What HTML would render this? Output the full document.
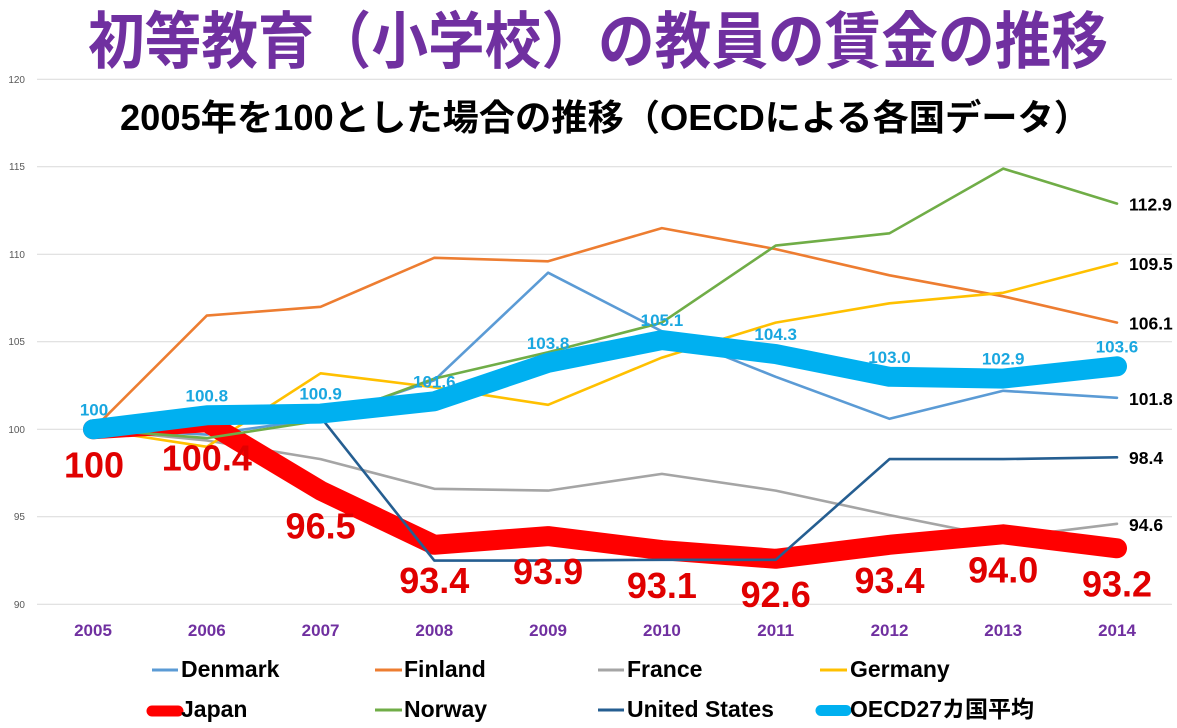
<!DOCTYPE html>
<html><head><meta charset="utf-8"><style>
html,body{margin:0;padding:0;background:#fff;}
svg{display:block;}
text{font-family:"Liberation Sans","Noto Sans CJK JP",sans-serif;}
</style></head><body>
<svg width="1177" height="728" viewBox="0 0 1177 728" xmlns="http://www.w3.org/2000/svg">
<rect width="1177" height="728" fill="#fff"/>
<!-- grid -->
<g stroke="#D9D9D9" stroke-width="1">
<line x1="37" y1="79.3" x2="1172" y2="79.3"/>
<line x1="37" y1="166.8" x2="1172" y2="166.8"/>
<line x1="37" y1="254.3" x2="1172" y2="254.3"/>
<line x1="37" y1="341.8" x2="1172" y2="341.8"/>
<line x1="37" y1="429.3" x2="1172" y2="429.3"/>
<line x1="37" y1="516.8" x2="1172" y2="516.8"/>
<line x1="37" y1="604.3" x2="1172" y2="604.3"/>
</g>
<g font-size="10" fill="#595959" text-anchor="end">
<text x="25" y="83">120</text>
<text x="25" y="170">115</text>
<text x="25" y="258">110</text>
<text x="25" y="345">105</text>
<text x="25" y="433">100</text>
<text x="25" y="520">95</text>
<text x="25" y="608">90</text>
</g>
<!-- title -->
<text x="88" y="63" font-size="62" font-weight="bold" fill="#7030A0" textLength="1020" lengthAdjust="spacingAndGlyphs">初等教育（小学校）の教員の賃金の推移</text>
<text x="120" y="130" font-size="36" font-weight="bold" fill="#000" textLength="970" lengthAdjust="spacingAndGlyphs">2005年を100とした場合の推移（OECDによる各国データ）</text>
<!-- series -->
<g fill="none" stroke-linejoin="round" stroke-linecap="round">
<polyline stroke="#5B9BD5" stroke-width="2.6" points="93,429.3 206.8,434.6 320.6,418.8 434.3,380.3 548.1,272.7 661.9,331.3 775.7,376.8 889.5,418.8 1003.2,390.8 1117,397.8"/>
<polyline stroke="#ED7D31" stroke-width="2.6" points="93,429.3 206.8,315.6 320.6,306.8 434.3,257.8 548.1,261.3 661.9,228.1 775.7,249.1 889.5,275.3 1003.2,296.3 1117,322.6"/>
<polyline stroke="#A5A5A5" stroke-width="2.6" points="93,429.3 206.8,440.5 320.6,459.1 434.3,488.8 548.1,490.6 661.9,473.9 775.7,490.6 889.5,515.1 1003.2,537.8 1117,523.8"/>
<polyline stroke="#FFC000" stroke-width="2.6" points="93,429.3 206.8,446.8 320.6,373.3 434.3,387.3 548.1,404.8 661.9,357.6 775.7,322.6 889.5,303.3 1003.2,292.8 1117,263.1"/>
<polyline stroke="#FF0000" stroke-width="20" points="93,429.3 206.8,422.3 320.6,490.6 434.3,544.8 548.1,536.1 661.9,550.1 775.7,558.8 889.5,544.8 1003.2,534.3 1117,548.3"/>
<polyline stroke="#70AD47" stroke-width="2.6" points="93,429.3 206.8,438.1 320.6,420.6 434.3,378.6 548.1,352.3 661.9,322.6 775.7,245.6 889.5,233.3 1003.2,168.6 1117,203.6"/>
<polyline stroke="#255E91" stroke-width="2.6" points="93,429.3 206.8,417.1 320.6,417.1 434.3,560.6 548.1,560.6 661.9,559.8 775.7,559.8 889.5,459.1 1003.2,459.1 1117,457.3"/>
<polyline stroke="#00B0F0" stroke-width="20" points="93,429.3 206.8,415.3 320.6,413.6 434.3,401.3 548.1,362.8 661.9,340.1 775.7,354.1 889.5,376.8 1003.2,378.6 1117,366.3"/>
</g>
<!-- OECD labels -->
<g font-size="17" font-weight="bold" fill="#1AA7E0" text-anchor="middle">
<text x="94" y="415.3">100</text>
<text x="206.8" y="401.3">100.8</text>
<text x="320.6" y="399.6">100.9</text>
<text x="434.3" y="387.3">101.6</text>
<text x="548.1" y="348.8">103.8</text>
<text x="661.9" y="326.1">105.1</text>
<text x="775.7" y="340.1">104.3</text>
<text x="889.5" y="362.8">103.0</text>
<text x="1003.2" y="364.6">102.9</text>
<text x="1117" y="352.3">103.6</text>
</g>
<!-- Japan labels -->
<g font-size="36" font-weight="bold" fill="#E00000" text-anchor="middle">
<text x="94" y="477.3">100</text>
<text x="206.8" y="470.3">100.4</text>
<text x="320.6" y="538.6">96.5</text>
<text x="434.3" y="592.8">93.4</text>
<text x="548.1" y="584.1">93.9</text>
<text x="661.9" y="598.1">93.1</text>
<text x="775.7" y="606.8">92.6</text>
<text x="889.5" y="592.8">93.4</text>
<text x="1003.2" y="582.3">94.0</text>
<text x="1117" y="596.3">93.2</text>
</g>
<!-- right labels -->
<g font-size="17.5" font-weight="bold" fill="#000">
<text x="1129" y="210.5">112.9</text>
<text x="1129" y="270">109.5</text>
<text x="1129" y="329.6">106.1</text>
<text x="1129" y="404.8">101.8</text>
<text x="1129" y="464">98.4</text>
<text x="1129" y="530.8">94.6</text>
</g>
<!-- x axis -->
<g font-size="17" font-weight="bold" fill="#7030A0" text-anchor="middle">
<text x="93" y="636">2005</text>
<text x="206.8" y="636">2006</text>
<text x="320.6" y="636">2007</text>
<text x="434.3" y="636">2008</text>
<text x="548.1" y="636">2009</text>
<text x="661.9" y="636">2010</text>
<text x="775.7" y="636">2011</text>
<text x="889.5" y="636">2012</text>
<text x="1003.2" y="636">2013</text>
<text x="1117" y="636">2014</text>
</g>
<!-- legend -->
<g stroke-linecap="butt" fill="none">
<line x1="152" y1="670" x2="178" y2="670" stroke="#5B9BD5" stroke-width="3"/>
<line x1="375" y1="670" x2="402" y2="670" stroke="#ED7D31" stroke-width="3"/>
<line x1="598" y1="670" x2="624" y2="670" stroke="#A5A5A5" stroke-width="3"/>
<line x1="820" y1="670" x2="847" y2="670" stroke="#FFC000" stroke-width="3"/>
<line x1="152" y1="711" x2="178" y2="711" stroke="#FF0000" stroke-width="11" stroke-linecap="round"/>
<line x1="375" y1="710" x2="402" y2="710" stroke="#70AD47" stroke-width="3"/>
<line x1="598" y1="710" x2="624" y2="710" stroke="#255E91" stroke-width="3"/>
<line x1="821" y1="710.5" x2="846" y2="710.5" stroke="#00B0F0" stroke-width="11" stroke-linecap="round"/>
</g>
<g font-size="23" font-weight="bold" fill="#000">
<text x="181" y="677">Denmark</text>
<text x="404" y="677">Finland</text>
<text x="627" y="677">France</text>
<text x="850" y="677">Germany</text>
<text x="181" y="717">Japan</text>
<text x="404" y="717">Norway</text>
<text x="627" y="717">United States</text>
<text x="850" y="717">OECD27カ国平均</text>
</g>
</svg>
</body></html>
